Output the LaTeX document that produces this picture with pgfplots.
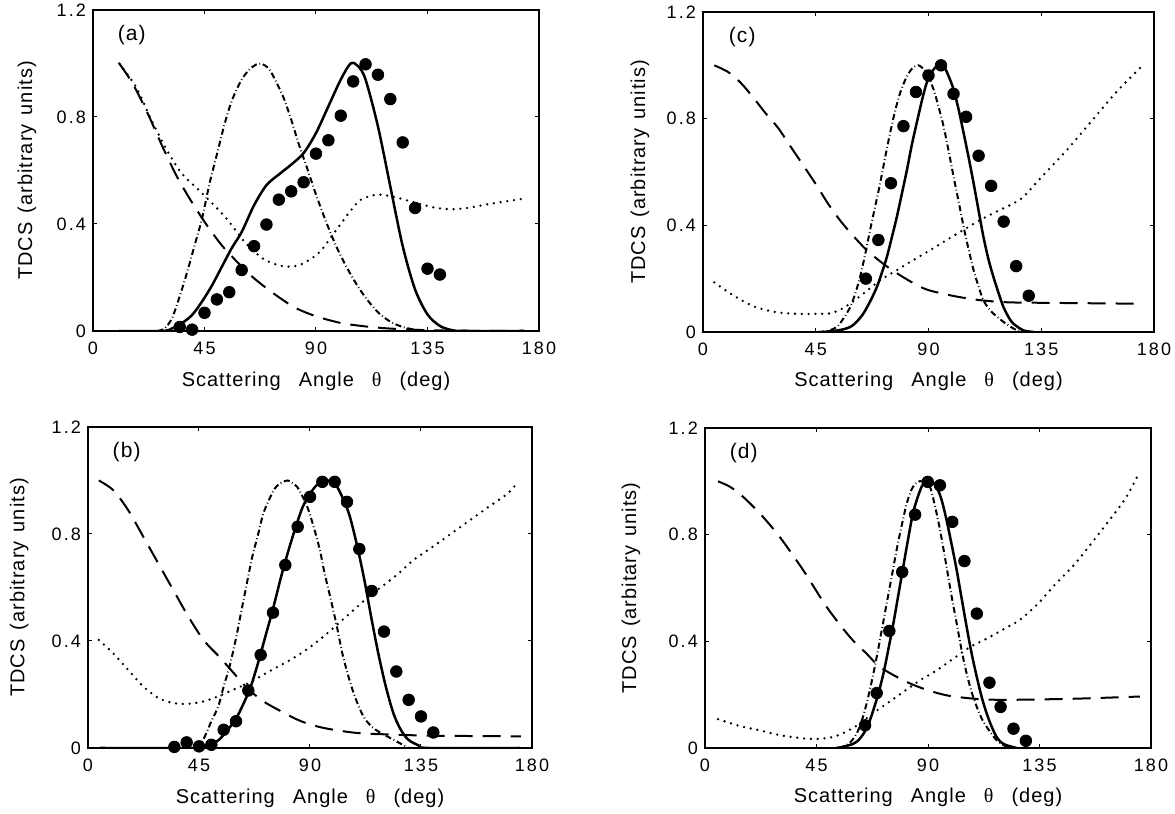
\documentclass[border=0pt]{standalone}
\usepackage{fontspec}
\setmainfont{Liberation Sans}
\newfontfamily\tickfont[LetterSpace=12]{Liberation Sans}
\newfontfamily\labfont[LetterSpace=5]{Liberation Sans}
\newfontfamily\thfont{Liberation Serif}
\usepackage{pgfplots}
\pgfplotsset{compat=1.18}

\pgfplotsset{
  tdcs/.style={
    scale only axis, height=160.5pt,
    xmin=0, xmax=180, ymin=0, ymax=1.2,
    xtick={0,45,90,135,180}, xticklabels={0,45,90,135,180},
    ytick={0,0.4,0.8,1.2}, yticklabels={0,0.4,0.8,1.2},
    tick align=inside, major tick length=2.2pt,
    tick style={black, line width=0.5pt},
    axis line style={line width=0.7pt},
    ticklabel style={font=\tickfont\fontsize{9}{10}\selectfont},
    xticklabel style={yshift=-2pt},
    /pgf/number format/assume math mode=true,
    label style={font=\labfont\fontsize{10}{12}\selectfont},
    xlabel={Scattering\hspace{0.9em}Angle\hspace{0.9em}{\thfont θ}\hspace{0.9em}(deg)},
    xlabel style={at={(axis description cs:0.5,-0.125)}, anchor=north, inner sep=0pt},
    ylabel style={anchor=center, inner sep=0pt},
  },
  sol/.style={black, line width=1.25pt, no marks, smooth},
  dsh/.style={black, line width=1pt, no marks, smooth, dash pattern=on 9pt off 5pt},
  dtt/.style={black, line width=1.3pt, no marks, smooth, line cap=round, dash pattern=on 0pt off 3.4pt},
  dd/.style={black, line width=1pt, no marks, smooth, dash pattern=on 3pt off 1.4pt on 0.4pt off 1.4pt},
  exp/.style={only marks, mark=*, mark size=2.9pt, black},
}
\newcommand{\tdcslab}{TDCS\hspace{0.45em}(arbitrary\hspace{0.45em}units)}
\newcommand{\panel}[1]{\node[font=\labfont\fontsize{10.5}{12}\selectfont] at (rel axis cs:0.087,0.922) {#1};}

\begin{document}
\begin{tikzpicture}
\useasboundingbox (0,0) rectangle (587.5pt,407pt);

% (a)
\begin{axis}[tdcs, width=223pt, at={(46.5pt,402pt)}, anchor=north west,
  ylabel={\tdcslab}, ylabel style={at={(axis description cs:-0.148,0.5)}}]
\addplot[sol] coordinates {(10.6,0) (28,0) (32,0.01) (36,0.03) (40,0.06) (44,0.11) (48,0.17) (52,0.24) (56,0.31) (60,0.37) (65,0.47) (70,0.545) (75,0.585) (80,0.622) (85,0.665) (90,0.74) (95,0.84) (100,0.94) (104,1.0) (107,0.99) (110,0.94) (115,0.765) (120,0.54) (125,0.317) (130,0.155) (135,0.062) (140,0.019) (145,0.003) (150,0) (174,0)};
\addplot[dd] coordinates {(26,0) (29,0.01) (32,0.05) (35,0.13) (38,0.22) (41,0.32) (44,0.42) (47,0.55) (50,0.66) (53,0.77) (56,0.86) (60,0.94) (64,0.985) (67.5,1.0) (71,0.98) (74,0.93) (77,0.87) (80,0.79) (83,0.7) (86,0.62) (90,0.51) (94,0.41) (98,0.32) (102,0.245) (106,0.18) (110,0.125) (115,0.07) (120,0.035) (125,0.015) (130,0.005) (135,0)};
\addplot[dsh] coordinates {(10.6,1.0) (16,0.925) (22,0.815) (28,0.69) (34,0.575) (40,0.48) (46,0.395) (52,0.32) (58,0.26) (64,0.205) (70,0.16) (76,0.12) (82,0.085) (90,0.055) (100,0.03) (110,0.017) (120,0.009) (135,0.003) (150,0.001) (174,0)};
\addplot[dtt] coordinates {(10.6,1.0) (17.5,0.91) (23.5,0.79) (29.6,0.68) (35.7,0.59) (41.8,0.535) (47.8,0.48) (53.9,0.42) (61.5,0.33) (69,0.268) (76.7,0.242) (82.8,0.245) (88,0.27) (92,0.3) (96,0.35) (100,0.4) (104,0.45) (108,0.49) (114.7,0.51) (122,0.5) (130,0.48) (137.5,0.462) (145,0.455) (152.7,0.462) (160,0.475) (174,0.495)};
\addplot[exp] coordinates {(35,0.015) (40,0.005) (45,0.068) (50,0.118) (55,0.145) (60,0.228) (65,0.317) (70,0.398) (75,0.491) (80,0.522) (85,0.556) (90,0.663) (95,0.713) (100,0.805) (105,0.933) (110,0.997) (115,0.958) (120,0.867) (125,0.705) (130,0.46) (135,0.233) (140,0.211)};
\panel{(a)}
\end{axis}

% (b)
\begin{axis}[tdcs, width=222pt, at={(44pt,193.5pt)}, anchor=north west,
  ylabel={\tdcslab}, ylabel style={at={(axis description cs:-0.155,0.5)}}]
\addplot[sol] coordinates {(5,0) (44,0) (47,0.003) (50,0.012) (53,0.03) (56,0.06) (60,0.11) (63,0.165) (66,0.23) (69,0.32) (72,0.42) (75,0.52) (78,0.63) (81,0.73) (84,0.82) (87,0.9) (90,0.95) (93,0.985) (97,1.0) (100,0.99) (103,0.94) (106,0.87) (109,0.76) (112,0.63) (115,0.48) (118,0.34) (121,0.22) (124,0.125) (127,0.065) (130,0.03) (134,0.01) (138,0) (175,0)};
\addplot[dd] coordinates {(43.7,0) (46,0.02) (48,0.056) (50,0.1) (52.8,0.155) (55,0.23) (57.4,0.305) (60,0.41) (62,0.504) (64.5,0.62) (66.6,0.715) (69,0.8) (71.1,0.877) (73.5,0.93) (75.7,0.97) (78,0.99) (81,1.0) (83,0.99) (84.8,0.976) (87,0.94) (89.4,0.889) (92,0.81) (94,0.74) (96,0.65) (98.5,0.553) (101,0.45) (103.1,0.354) (105.5,0.27) (107.7,0.205) (110,0.15) (112.2,0.11) (115,0.08) (118,0.06) (122,0.04) (126,0.02) (130,0)};
\addplot[dsh] coordinates {(4.4,1.0) (10.2,0.964) (16.3,0.889) (22.4,0.79) (28.5,0.69) (34.6,0.59) (40.7,0.491) (46.8,0.404) (52.8,0.345) (56.7,0.305) (61,0.26) (65,0.22) (71,0.175) (78.7,0.135) (86.4,0.1) (95.5,0.075) (109.2,0.056) (124.4,0.05) (139.7,0.046) (175.5,0.0435)};
\addplot[dtt] coordinates {(4.4,0.404) (10.2,0.354) (16.3,0.292) (22.4,0.23) (28.5,0.187) (34.6,0.168) (40.7,0.165) (46.8,0.174) (52.8,0.193) (58.9,0.218) (65,0.242) (71.1,0.274) (77.2,0.305) (83.3,0.336) (89.4,0.373) (95.5,0.417) (101.6,0.466) (107.7,0.516) (113.8,0.566) (119.9,0.609) (126,0.653) (132,0.703) (139.7,0.752) (147.3,0.802) (154.9,0.852) (162.5,0.902) (170.1,0.951) (173.9,0.989)};
\addplot[exp] coordinates {(35,0.004) (40,0.021) (45,0.006) (50,0.012) (55,0.068) (60,0.1) (65,0.215) (70,0.348) (75,0.506) (80,0.684) (85,0.827) (90,0.939) (95,0.995) (100,0.995) (105,0.92) (110,0.744) (115,0.587) (120,0.435) (125,0.286) (130,0.18) (135,0.118) (140,0.058)};
\panel{(b)}
\end{axis}

% (c)
\begin{axis}[tdcs, width=225.5pt, height=160pt, at={(351.5pt,401pt)}, anchor=north west,
  ylabel={TDCS\hspace{0.45em}(arbitrary\hspace{0.45em}unitis)}, ylabel style={at={(axis description cs:-0.14,0.5)}}]
\addplot[sol] coordinates {(48,0) (53,0.005) (56,0.01) (58.8,0.019) (61,0.035) (64,0.069) (67,0.12) (69.4,0.169) (71.5,0.225) (73.4,0.282) (75.5,0.36) (77.4,0.433) (79.4,0.52) (81.4,0.608) (83.3,0.7) (85.3,0.784) (87.3,0.865) (89.3,0.935) (91.3,0.975) (93.3,0.997) (95,1.0) (96.5,0.99) (98,0.96) (100,0.91) (102,0.835) (104,0.747) (106,0.655) (108,0.558) (110,0.455) (111.9,0.358) (114,0.27) (115.9,0.207) (118,0.145) (119.9,0.094) (122,0.055) (123.9,0.031) (127.9,0.006) (132,0)};
\addplot[dd] coordinates {(46,0) (50,0.005) (53.4,0.019) (56,0.05) (58.8,0.094) (60.8,0.145) (62.7,0.207) (64.7,0.29) (66.7,0.383) (68.7,0.47) (70.7,0.558) (72.7,0.655) (74.7,0.747) (76.7,0.83) (78.7,0.897) (80.7,0.945) (82.7,0.979) (84.3,0.995) (86,1.0) (87.6,0.99) (89.3,0.972) (92,0.91) (94,0.845) (96,0.772) (98,0.68) (100,0.583) (102,0.49) (104,0.395) (106,0.31) (108,0.232) (110,0.17) (111.9,0.119) (113.9,0.09) (115.9,0.069) (119.9,0.038) (123.9,0.013) (127,0)};
\addplot[dsh] coordinates {(4.5,1.0) (10,0.975) (15,0.935) (20,0.88) (25,0.82) (30,0.765) (35,0.695) (40,0.625) (45,0.555) (50,0.48) (55,0.415) (60,0.36) (65,0.31) (70,0.27) (75,0.235) (80,0.205) (85,0.178) (90,0.157) (100,0.135) (110,0.12) (120,0.112) (130,0.11) (175.5,0.106)};
\addplot[dtt] coordinates {(4.5,0.186) (10,0.15) (15,0.121) (20,0.097) (24,0.085) (30,0.073) (37.5,0.068) (45,0.068) (50.8,0.07) (55,0.085) (58.8,0.107) (64,0.144) (70.7,0.194) (77.4,0.232) (84,0.27) (90.7,0.307) (97.3,0.345) (104,0.383) (110.6,0.42) (117.3,0.452) (124,0.483) (128,0.508) (135,0.58) (145,0.68) (155,0.79) (165,0.9) (175.5,1.0)};
\addplot[exp] coordinates {(65,0.2) (70,0.345) (75,0.558) (80,0.772) (85,0.9) (90,0.962) (95,1.0) (100,0.893) (105,0.807) (110,0.661) (115,0.548) (120,0.414) (125,0.247) (130,0.136)};
\panel{(c)}
\end{axis}

% (d)
\begin{axis}[tdcs, width=223pt, height=160pt, at={(352.5pt,193pt)}, anchor=north west,
  ylabel={TDCS\hspace{0.45em}(arbitary\hspace{0.45em}units)}, ylabel style={at={(axis description cs:-0.166,0.5)}}]
\addplot[sol] coordinates {(53,0) (56,0.005) (59.9,0.016) (62,0.03) (64,0.054) (66,0.09) (67.9,0.141) (70,0.205) (72,0.279) (74,0.37) (76,0.466) (78,0.572) (80,0.679) (82,0.785) (83.9,0.879) (86,0.945) (88.1,0.991) (90.5,1.0) (92,0.995) (93.5,0.979) (95.5,0.93) (97.5,0.854) (99.5,0.765) (101.6,0.666) (103.6,0.56) (105.6,0.454) (107.6,0.355) (109.7,0.266) (111.7,0.19) (113.7,0.129) (115.7,0.08) (117.7,0.041) (119.7,0.02) (121.8,0.01) (125.8,0)};
\addplot[dd] coordinates {(54,0) (55.8,0.005) (58.5,0.02) (61.2,0.054) (63.2,0.1) (65.2,0.166) (67.3,0.25) (69.3,0.341) (71.3,0.44) (73.3,0.541) (75.3,0.64) (77.3,0.741) (79.4,0.835) (81.4,0.916) (83.4,0.97) (85.4,0.996) (88,1.0) (90.8,0.979) (93.5,0.879) (95.5,0.785) (97.5,0.679) (99.5,0.57) (101.6,0.466) (103.6,0.365) (105.6,0.279) (107.6,0.21) (109.7,0.154) (111.7,0.11) (113.7,0.079) (117.7,0.029) (121.8,0.004) (124,0)};
\addplot[dsh] coordinates {(5.25,1.0) (10,0.98) (15,0.945) (22.2,0.879) (30.2,0.791) (39.7,0.666) (49.1,0.529) (58.5,0.416) (65.2,0.354) (70.6,0.304) (80,0.254) (88.1,0.2225) (97.5,0.1975) (108.3,0.185) (116.4,0.181) (127,0.181) (150,0.185) (175.5,0.193)};
\addplot[dtt] coordinates {(5.25,0.108) (10,0.094) (15,0.08) (22.2,0.066) (30.2,0.048) (39.7,0.036) (45,0.034) (49.1,0.037) (53,0.045) (57.2,0.062) (62.5,0.091) (67,0.125) (73.3,0.166) (80,0.21) (86.8,0.254) (93.5,0.291) (100.2,0.335) (107,0.379) (113.7,0.41) (120.4,0.445) (127,0.48) (134.25,0.54) (141,0.61) (149.25,0.69) (157,0.78) (164.25,0.867) (170,0.94) (174.75,1.023)};
\addplot[exp] coordinates {(64.6,0.085) (69.3,0.206) (74.4,0.439) (79.6,0.66) (84.8,0.875) (89.9,0.998) (94.8,0.985) (99.8,0.848) (104.7,0.701) (109.7,0.504) (114.8,0.245) (119.3,0.154) (124.5,0.0725) (129.5,0.027)};
\panel{(d)}
\end{axis}
\end{tikzpicture}
\end{document}
